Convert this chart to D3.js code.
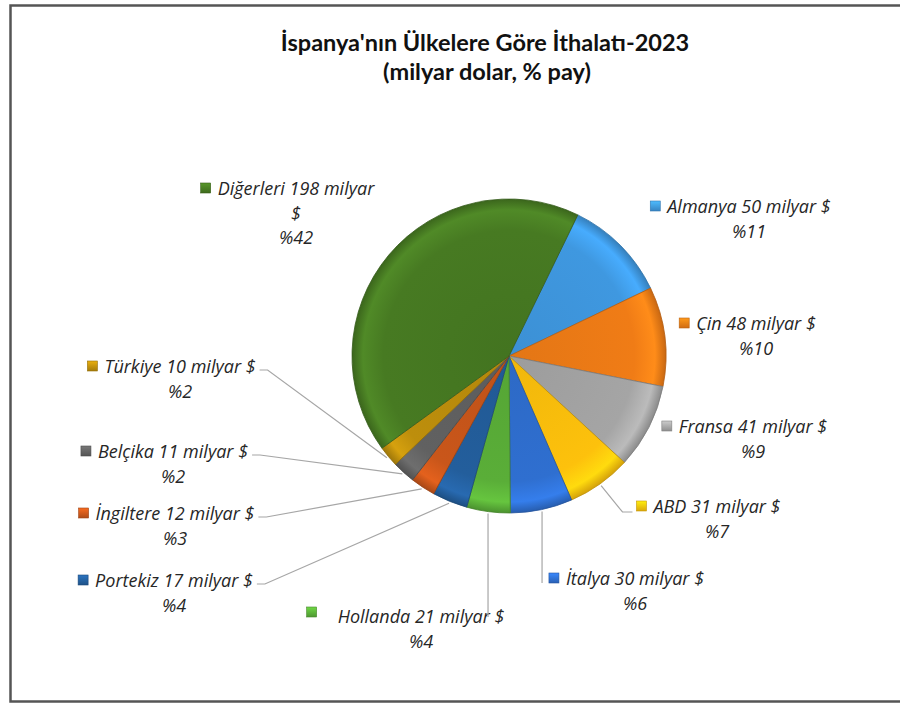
<!DOCTYPE html>
<html>
<head>
<meta charset="utf-8">
<script src="https://cdn.jsdelivr.net/npm/d3@7"></script>
<style>
  body { margin: 0; background: #fff; }
</style>
</head>
<body>
<div id="chart"></div>
<script>
const countries = ["Almanya", "Çin", "Fransa", "ABD", "İtalya", "Hollanda", "Portekiz", "İngiltere", "Belçika", "Türkiye", "Diğerleri"];
const values = [50, 48, 41, 31, 30, 21, 17, 12, 11, 10, 198];
const shares = [11, 10, 9, 7, 6, 4, 4, 3, 2, 2, 42];
const colors = ["#3f98e0", "#f07c16", "#a5a5a5", "#fdc10c", "#2f6fd0", "#5aae38", "#235e9c", "#c9561a", "#616161", "#bd8e0c", "#477a22"];

// label layout: text centre x, first baseline y, leader type
const labelLayout = [
  [749, 213, null], [756, 330, null], [753, 433, null], [717, 513, "right"],
  [635, 585, "below"], [421, 623, "below"], [174, 587, "left"], [175, 520, "left"],
  [173, 458, "left"], [180, 373, "left"], [296, 195, null]
];

const width = 900;
const height = 704;
const cx = 509, cy = 356, radius = 157;
const startAngle = 26 * Math.PI / 180;

const svg = d3.select("#chart")
  .append("svg")
    .attr("width", width)
    .attr("height", height);

// outer frame
svg.append("rect")
  .attr("x", 10.5).attr("y", 5.5)
  .attr("width", 900).attr("height", 696)
  .attr("fill", "none")
  .attr("stroke", "#555")
  .attr("stroke-width", 2.5);

svg.append("text")
  .attr("x", 485).attr("y", 51)
  .attr("text-anchor", "middle")
  .attr("font-family", "Lato")
  .attr("font-weight", "bold")
  .attr("font-size", 23.5)
  .attr("fill", "#111")
  .text("İspanya'nın Ülkelere Göre İthalatı-2023");

svg.append("text")
  .attr("x", 487).attr("y", 80)
  .attr("text-anchor", "middle")
  .attr("font-family", "Lato")
  .attr("font-weight", "bold")
  .attr("font-size", 23.5)
  .attr("fill", "#111")
  .text("(milyar dolar, % pay)");

const data = countries.map((c, i) => ({country: c, value: values[i], share: shares[i], color: colors[i], layout: labelLayout[i]}));

const pie = d3.pie()
  .sort(null)
  .value(d => d.value)
  .startAngle(startAngle)
  .endAngle(startAngle + 2 * Math.PI);
const data_ready = pie(data);

const arc = d3.arc()
  .innerRadius(0)
  .outerRadius(radius);

// gradients for the bevelled look
const defs = svg.append("defs");
data_ready.forEach((d, i) => {
  const c = d3.color(d.data.color);
  const g = defs.append("radialGradient")
    .attr("id", "sl" + i)
    .attr("gradientUnits", "userSpaceOnUse")
    .attr("cx", 0).attr("cy", 0).attr("r", radius);
  g.append("stop").attr("offset", "0%").attr("stop-color", c.darker(0.15));
  g.append("stop").attr("offset", "80%").attr("stop-color", c);
  g.append("stop").attr("offset", "93%").attr("stop-color", c.brighter(0.35));
  g.append("stop").attr("offset", "100%").attr("stop-color", c.darker(0.5));
  const k = defs.append("linearGradient")
    .attr("id", "key" + i)
    .attr("x1", 0).attr("y1", 0).attr("x2", 0).attr("y2", 1);
  k.append("stop").attr("offset", "0%").attr("stop-color", c.brighter(0.6));
  k.append("stop").attr("offset", "100%").attr("stop-color", c.darker(0.4));
});

const pieG = svg.append("g")
  .attr("transform", `translate(${cx},${cy})`);

pieG.selectAll("allSlices")
  .data(data_ready)
  .join("path")
    .attr("d", arc)
    .attr("fill", (d, i) => `url(#sl${i})`)
    .attr("stroke", d => d3.color(d.data.color).darker(0.8))
    .attr("stroke-width", 0.8)
    .attr("stroke-linejoin", "round");

// labels
const labelFont = 18;
const lineGap = 24.5;
const labels = svg.append("g")
  .attr("font-family", "Open Sans")
  .attr("font-style", "italic")
  .attr("font-size", labelFont)
  .attr("fill", "#262626");

const lineG = svg.append("g")
  .attr("fill", "none")
  .attr("stroke", "#a6a6a6")
  .attr("stroke-width", 1.2);

data_ready.forEach((d, i) => {
  const [lx, ly, type] = d.data.layout;
  let first = `${d.data.country} ${d.data.value} milyar $`;
  let lines = [first, "%" + d.data.share];
  const probe = labels.append("text").text(first);
  if (probe.node().getComputedTextLength() > 168) {
    lines = [`${d.data.country} ${d.data.value} milyar`, "$", "%" + d.data.share];
  }
  probe.remove();

  const t = labels.append("text")
    .attr("text-anchor", "middle");
  lines.forEach((s, j) => {
    t.append("tspan").attr("x", lx).attr("y", ly + j * lineGap).text(s);
  });
  const w1 = t.select("tspan").node().getComputedTextLength();
  const left = lx - w1 / 2, right = lx + w1 / 2;

  let kx = left - 17, ky = ly - 12;
  if (d.data.country === "Hollanda") { kx = left - 31; ky = ly - 16; }
  labels.append("rect")
    .attr("x", kx).attr("y", ky)
    .attr("width", 10).attr("height", 10)
    .attr("fill", `url(#key${i})`)
    .attr("stroke", d3.color(d.data.color).darker(0.7))
    .attr("stroke-width", 0.6);

  if (!type) return;
  const mid = (d.startAngle + d.endAngle) / 2;
  const p = [cx + (radius + 2) * Math.sin(mid), cy - (radius + 2) * Math.cos(mid)];
  let pts;
  if (type === "left") {
    pts = [[right + 4, ly - 3], [right + 12, ly - 3], p];
  } else if (type === "below") {
    pts = [p, [p[0], ky + 10]];
  } else {
    pts = [p, [kx - 14, ly - 1], [kx - 4, ly - 1]];
  }
  lineG.append("polyline")
    .attr("points", pts.map(q => q.join(",")).join(" "));
});
</script>
</body>
</html>
